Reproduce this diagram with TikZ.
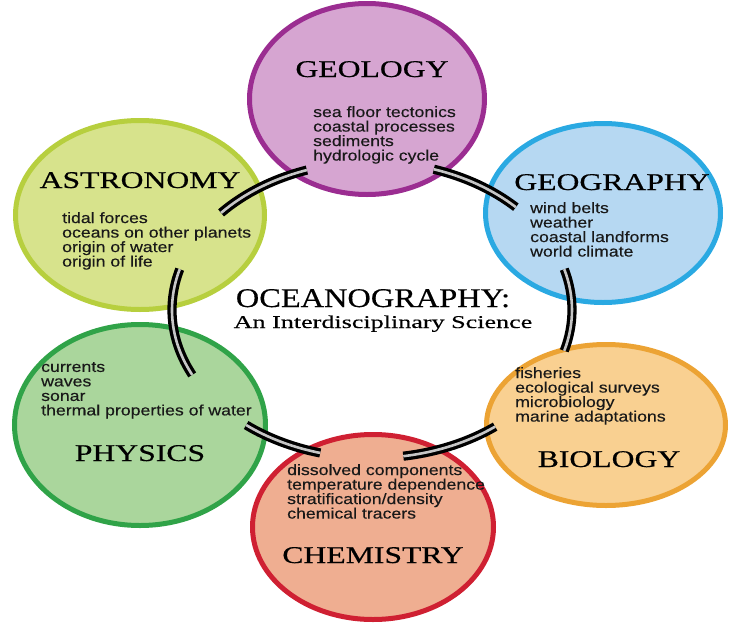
\documentclass[tikz,border=0pt]{standalone}
\usepackage{fontspec}
\usetikzlibrary{shapes.geometric}

\newfontfamily\headfont[FakeStretch=1.32, FakeBold=0.5]{Liberation Serif}
\newfontfamily\titlefont[FakeStretch=1.2, FakeBold=0.5]{Liberation Serif}
\newfontfamily\subfont[FakeStretch=1.45, FakeBold=0.4]{Liberation Serif}
\newfontfamily\itemfont[FakeStretch=1.18, FakeBold=0.3]{Liberation Sans}

\definecolor{geoFill}{RGB}{214,165,209}
\definecolor{geoLine}{RGB}{155,45,145}
\definecolor{astFill}{RGB}{215,227,140}
\definecolor{astLine}{RGB}{183,207,62}
\definecolor{gegFill}{RGB}{182,216,242}
\definecolor{gegLine}{RGB}{42,169,226}
\definecolor{phyFill}{RGB}{170,214,156}
\definecolor{phyLine}{RGB}{48,163,72}
\definecolor{bioFill}{RGB}{249,208,145}
\definecolor{bioLine}{RGB}{236,163,52}
\definecolor{chmFill}{RGB}{239,174,145}
\definecolor{chmLine}{RGB}{207,32,50}

\tikzset{
  field/.style={ellipse, line width=5pt, inner sep=0pt},
  head/.style={font=\headfont\fontsize{24pt}{24pt}\selectfont, anchor=base, inner sep=0pt},
  topics/.style={font=\itemfont\fontsize{15pt}{14.5pt}\selectfont, align=left,
    anchor=north west, inner sep=0pt, text=black!90},
  ring/.style={line width=3.3pt, double=gray!45, double distance=2.6pt},
}

\begin{document}
\begin{tikzpicture}[x=1pt, y=-1pt]
  \useasboundingbox (0,0) rectangle (729,627);

  % the six fields
  \node[field, draw=geoLine, fill=geoFill, minimum width=235pt, minimum height=191pt] (geology) at (367,99) {};
  \node[field, draw=astLine, fill=astFill, minimum width=249pt, minimum height=189pt] (astronomy) at (140,215) {};
  \node[field, draw=gegLine, fill=gegFill, minimum width=235pt, minimum height=179pt] (geography) at (603,213) {};
  \node[field, draw=phyLine, fill=phyFill, minimum width=251pt, minimum height=201pt] (physics) at (140,425) {};
  \node[field, draw=bioLine, fill=bioFill, minimum width=239pt, minimum height=161pt] (biology) at (606,425) {};
  \node[field, draw=chmLine, fill=chmFill, minimum width=241pt, minimum height=185pt] (chemistry) at (373,527) {};

  % ring between the fields
  \coordinate (hub) at (372,310);
  \draw[ring] (hub) ++(221:200 and 148) arc[start angle=221, end angle=251, x radius=200, y radius=148];
  \draw[ring] (hub) ++(288:200 and 148) arc[start angle=288, end angle=316, x radius=200, y radius=148];
  \draw[ring] (hub) ++(-16:200 and 148) arc[start angle=-16, end angle=16, x radius=200, y radius=148];
  \draw[ring] (hub) ++(52:200 and 148) arc[start angle=52, end angle=81, x radius=200, y radius=148];
  \draw[ring] (hub) ++(105:200 and 148) arc[start angle=105, end angle=129, x radius=200, y radius=148];
  \draw[ring] (hub) ++(154:200 and 148) arc[start angle=154, end angle=196, x radius=200, y radius=148];

  % headings
  \node[head] (geoT) at (372,77) {GEOLOGY};
  \node[head] (astT) at (140,188) {ASTRONOMY};
  \node[head] (gegT) at (612,190) {GEOGRAPHY};
  \node[head] (phyT) at (140,461) {PHYSICS};
  \node[head] (bioT) at (609,467) {BIOLOGY};
  \node[head] (chmT) at (373,563) {CHEMISTRY};

  % topics
  \node[topics] (geoL) at (313,106) {sea floor tectonics\\coastal processes\\sediments\\hydrologic cycle};
  \node[topics] (astL) at (62,212) {tidal forces\\oceans on other planets\\origin of water\\origin of life};
  \node[topics] (gegL) at (530,202) {wind belts\\weather\\coastal landforms\\world climate};
  \node[topics] (phyL) at (41,362) {currents\\waves\\sonar\\thermal properties of water};
  \node[topics] (bioL) at (515,367) {fisheries\\ecological surveys\\microbiology\\marine adaptations};
  \node[topics] (chmL) at (287,464) {dissolved components\\temperature dependence\\stratification/density\\chemical tracers};

  % centre title
  \node[anchor=base, inner sep=0pt, font=\titlefont\fontsize{27pt}{27pt}\selectfont] (title) at (373,307) {OCEANOGRAPHY:};
  \node[anchor=base, inner sep=0pt, font=\subfont\fontsize{18pt}{18pt}\selectfont] (subtitle) at (383,328) {An Interdisciplinary Science};
\end{tikzpicture}
\end{document}
